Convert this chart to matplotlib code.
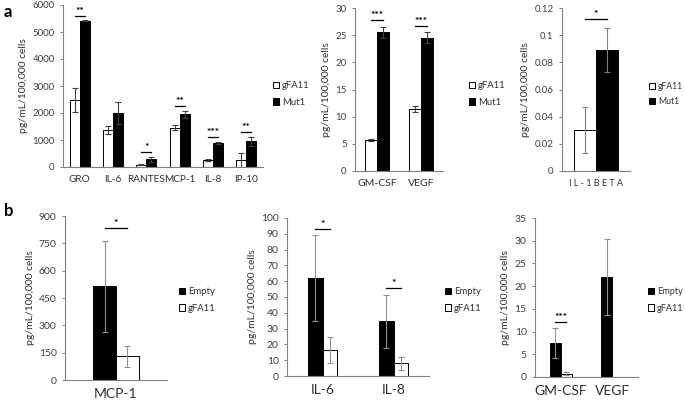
import numpy as np
import matplotlib
matplotlib.use("Agg")
import matplotlib.pyplot as plt

plt.rcParams['font.family'] = ['Lato', 'DejaVu Sans']

# panel a, left: gFA11 vs Mut1
a1_cats = ["GRO", "IL-6", "RANTES", "MCP-1", "IL-8", "IP-10"]
a1_gfa = [2480, 1380, 90, 1460, 260, 250]
a1_gfa_err = [460, 150, 30, 100, 20, 270]
a1_mut = [5410, 1990, 290, 1950, 890, 950]
a1_mut_err = [20, 400, 90, 120, 50, 160]
a1_sig = ["**", "", "*", "**", "***", "**"]

# panel a, middle
a2_cats = ["GM-CSF", "VEGF"]
a2_gfa = [5.7, 11.4]
a2_gfa_err = [0.2, 0.6]
a2_mut = [25.5, 24.5]
a2_mut_err = [1.0, 1.0]
a2_sig = ["***", "***"]

# panel a, right
a3_cats = ["IL-1BETA"]
a3_gfa = [0.030]
a3_gfa_err = [0.017]
a3_mut = [0.089]
a3_mut_err = [0.016]
a3_sig = ["*"]
a3_ticklabels = ["0", "0.02", "0.04", "0.06", "0.08", "0.1", "0.12"]

# panel b: Empty vs gFA11
b1_cats = ["MCP-1"]
b1_empty = [515]
b1_empty_err = [250]
b1_gfa = [130]
b1_gfa_err = [58]
b1_sig = ["*"]

b2_cats = ["IL-6", "IL-8"]
b2_empty = [62, 34.5]
b2_empty_err = [27, 17]
b2_gfa = [16.5, 8]
b2_gfa_err = [8.5, 4]
b2_sig = ["*", "*"]

b3_cats = ["GM-CSF", "VEGF"]
b3_empty = [7.5, 22]
b3_empty_err = [3.3, 8.3]
b3_gfa = [0.7, 0]
b3_gfa_err = [0.3, 0]
b3_sig = ["***", ""]

ylab = "pg/mL/100,000 cells"
W, H = 685, 400
fig = plt.figure(figsize=(W / 100, H / 100), dpi=100)

def px_axes(x0, y0, x1, y1):
    return fig.add_axes([x0 / W, 1 - y1 / H, (x1 - x0) / W, (y1 - y0) / H])

def draw(ax, cats, first, first_err, second, second_err, sig, names, colors,
         width, ymax, step, ecol, catsize, ticksize=7, ticklabels=None, sigoff=0.035):
    x = np.arange(len(cats))
    tops = []
    for k, (vals, errs, col) in enumerate([(first, first_err, colors[0]),
                                           (second, second_err, colors[1])]):
        pos = x + (k - 0.5) * width
        ax.bar(pos, vals, width, color=col, edgecolor="black", linewidth=0.7,
               label=names[k], zorder=2)
        e = np.array(errs)
        show = e > 0
        ax.errorbar(pos[show], np.array(vals)[show], yerr=e[show], fmt="none",
                    ecolor=ecol, elinewidth=0.8, capsize=2.5, capthick=0.8, zorder=3)
        tops.append(np.array(vals) + e)
    top = np.maximum(tops[0], tops[1])
    for i, s in enumerate(sig):
        if not s:
            continue
        y = top[i] + sigoff * ymax
        ax.plot([x[i] - width / 2, x[i] + width / 2], [y, y], color="black", lw=0.9)
        ax.text(x[i], y, s, ha="center", va="bottom", fontsize=7.5, fontweight="bold")
    ax.set_xlim(-0.5, len(cats) - 0.5)
    ax.set_ylim(0, ymax)
    ticks = np.arange(0, ymax + step / 2, step)
    ax.set_yticks(ticks)
    if ticklabels is not None:
        ax.set_yticklabels(ticklabels)
    ax.set_xticks(x)
    ax.set_xticklabels(cats, fontsize=catsize, color="#303030")
    ax.tick_params(axis="x", length=0, pad=6)
    ax.tick_params(axis="y", length=2.5, labelsize=ticksize, colors="#808080",
                   labelcolor="#404040", width=0.7)
    for s in ["top", "right"]:
        ax.spines[s].set_visible(False)
    for s in ["left", "bottom"]:
        ax.spines[s].set_color("#808080")
        ax.spines[s].set_linewidth(0.8)
    ax.set_ylabel(ylab, fontsize=7.5, color="#303030", labelpad=3)

def legend(ax, xpx, ypx, size=6.8):
    ax.legend(loc="center left", bbox_to_anchor=(xpx / W, 1 - ypx / H),
              bbox_transform=fig.transFigure, frameon=False, fontsize=size,
              handlelength=0.7, handleheight=0.7, handletextpad=0.3,
              labelspacing=0.8, borderaxespad=0, labelcolor="#303030")

a_cols = ["white", "black"]
a_names = ["gFA11", "Mut1"]
b_cols = ["black", "white"]
b_names = ["Empty", "gFA11"]

ax = px_axes(63, 5, 263, 167)
draw(ax, a1_cats, a1_gfa, a1_gfa_err, a1_mut, a1_mut_err, a1_sig, a_names, a_cols,
     0.3, 6000, 1000, "#404040", 7.2, sigoff=0.03)
legend(ax, 269, 94)

ax = px_axes(355, 8, 443, 171)
draw(ax, a2_cats, a2_gfa, a2_gfa_err, a2_mut, a2_mut_err, a2_sig, a_names, a_cols,
     0.27, 30, 5, "#404040", 7.5, sigoff=0.04)
legend(ax, 465, 94)

ax = px_axes(562, 8, 630, 171)
draw(ax, a3_cats, a3_gfa, a3_gfa_err, a3_mut, a3_mut_err, a3_sig, a_names, a_cols,
     0.33, 0.12, 0.02, "#808080", 7, ticklabels=a3_ticklabels, sigoff=0.06)
ax.set_xticklabels([" ".join(a3_cats[0])], fontsize=6.5, color="#303030")
legend(ax, 646, 94, size=6.2)

ax = px_axes(65, 216, 167, 380)
draw(ax, b1_cats, b1_empty, b1_empty_err, b1_gfa, b1_gfa_err, b1_sig, b_names, b_cols,
     0.225, 900, 150, "#909090", 10, ticksize=7.5, sigoff=0.075)
legend(ax, 175, 300)

ax = px_axes(287, 218, 429, 376)
draw(ax, b2_cats, b2_empty, b2_empty_err, b2_gfa, b2_gfa_err, b2_sig, b_names, b_cols,
     0.2, 100, 10, "#909090", 10, ticksize=7.5, sigoff=0.04)
legend(ax, 441, 300)

ax = px_axes(535, 218, 638, 377)
draw(ax, b3_cats, b3_empty, b3_empty_err, b3_gfa, b3_gfa_err, b3_sig, b_names, b_cols,
     0.21, 35, 5, "#909090", 10, ticksize=7.5, sigoff=0.04)
legend(ax, 644, 300, size=6.6)

fig.text(4 / W, 1 - 12 / H, "a", fontsize=12, fontweight="bold", va="center")
fig.text(4 / W, 1 - 211 / H, "b", fontsize=12, fontweight="bold", va="center")

fig.savefig("out.png", dpi=100)
